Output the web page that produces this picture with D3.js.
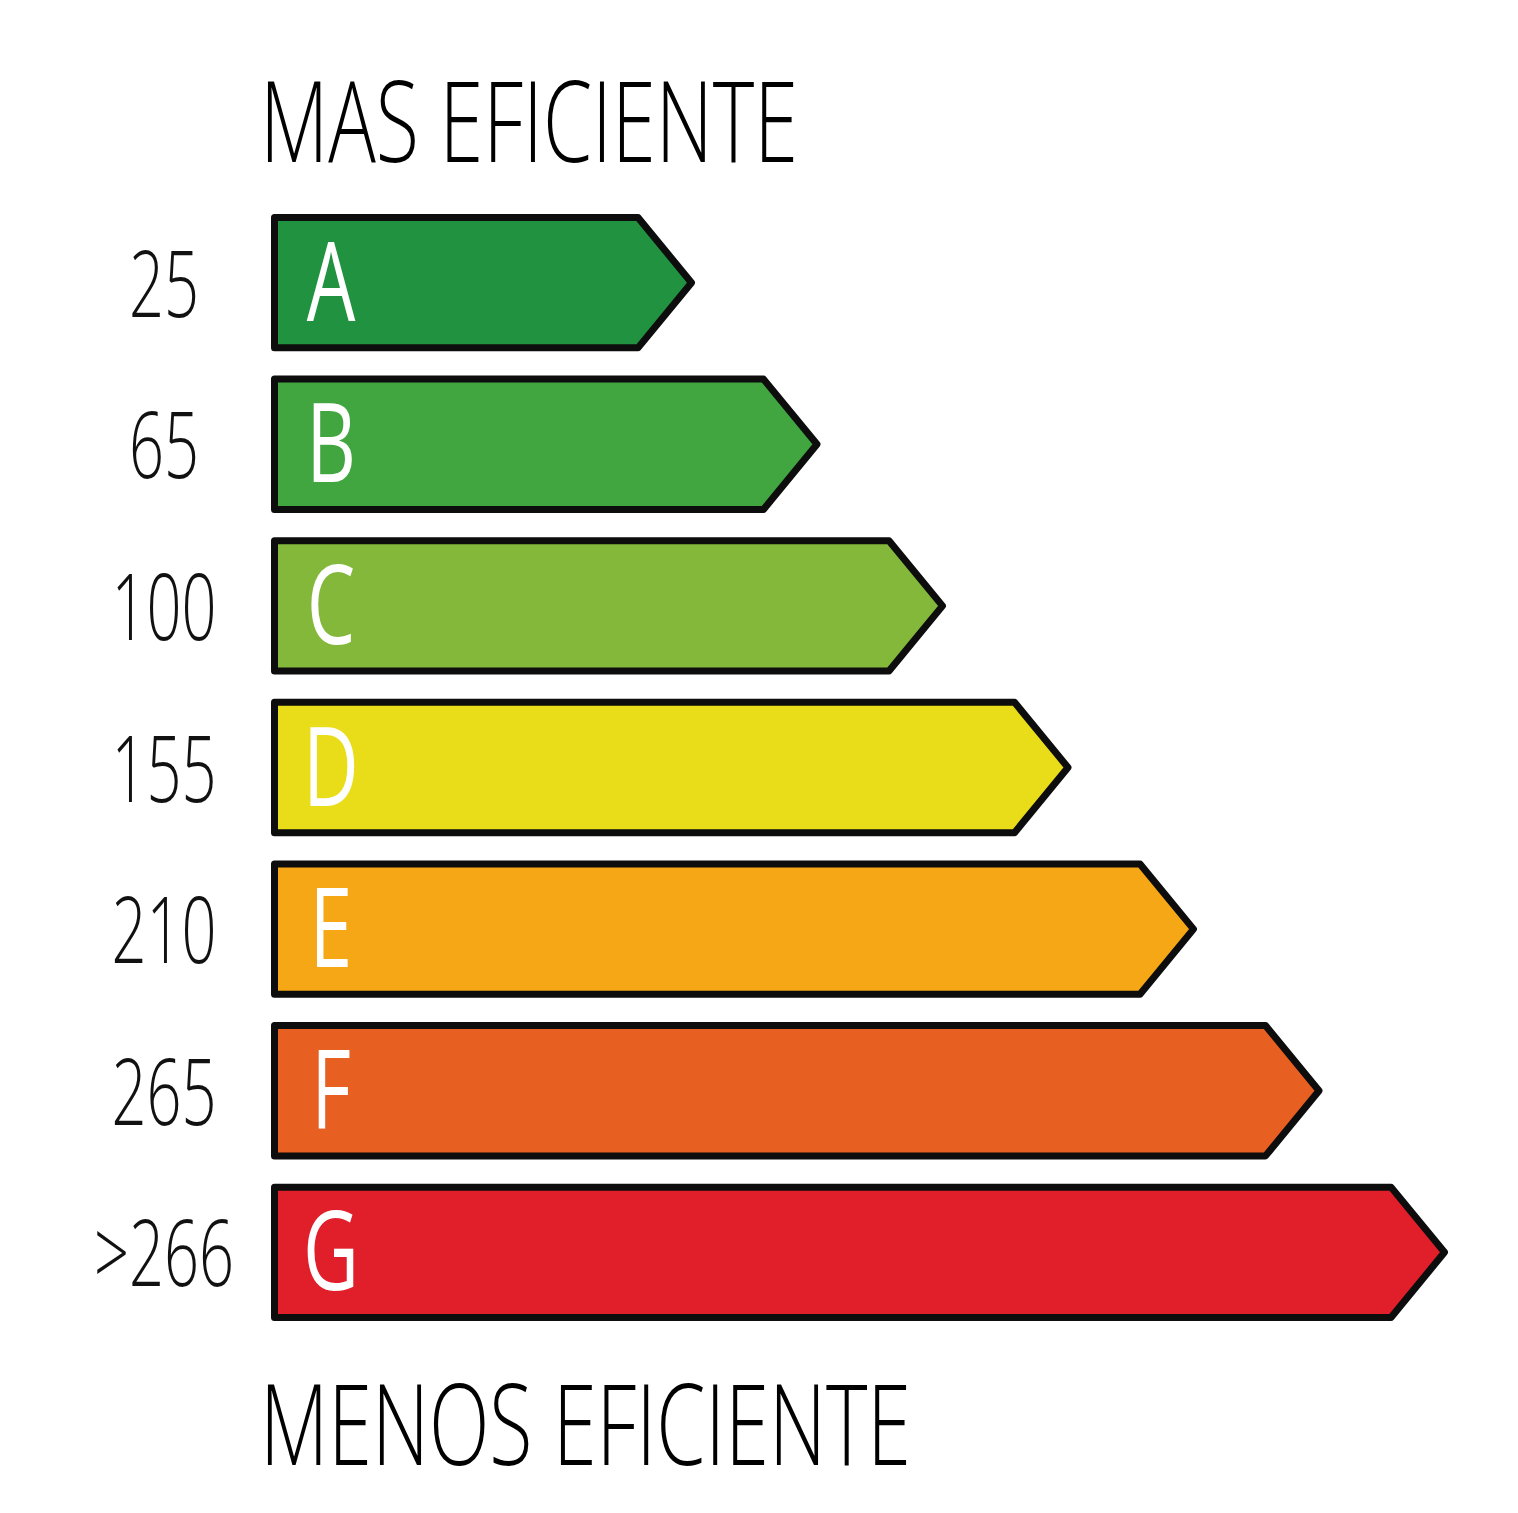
<!DOCTYPE html>
<html><head><meta charset="utf-8">
<script src="https://cdn.jsdelivr.net/npm/d3@7"></script>
<style>html,body{margin:0;padding:0;background:#fff}svg{display:block}</style>
</head><body>
<script>
const categories = ["A","B","C","D","E","F","G"];
const thresholds = ["25","65","100","155","210","265",">266"];
const ranks = [1,2,3,4,5,6,7];
const colors = ["#21923f","#41a540","#84b83a","#e9dc18","#f5a716","#e85f22","#e01f2b"];
const topLabel = "MAS EFICIENTE";
const bottomLabel = "MENOS EFICIENTE";

const W = 1518, H = 1513;
const svg = d3.select("body").append("svg").attr("width", W).attr("height", H);
svg.append("rect").attr("width", W).attr("height", H).attr("fill", "#fff");

const y = d3.scaleBand().domain(categories).range([214, 1321]).paddingInner(0.15).paddingOuter(0);
const x = d3.scaleLinear().domain([1, 7]).range([695, 1448]);
const x0 = 271, sw = 7, tip = 57;
const font = "'Open Sans', 'Liberation Sans Narrow', sans-serif";

const rows = categories.map((c, i) => ({cat: c, th: thresholds[i], r: ranks[i], col: colors[i]}));
const g = svg.append("g");
g.selectAll("path.bar").data(rows).join("path")
  .attr("class", "bar")
  .attr("fill", d => d.col)
  .attr("stroke", "#0d0d0d")
  .attr("stroke-width", sw)
  .attr("stroke-linejoin", "round")
  .attr("d", d => {
    const t = y(d.cat) + sw/2, b = y(d.cat) + y.bandwidth() - sw/2, m = (t + b)/2;
    const l = x0 + sw/2, r = x(d.r) - sw/2;
    return `M${l},${t}L${r - tip + sw/2},${t}L${r},${m}L${r - tip + sw/2},${b}L${l},${b}Z`;
  });

// letters
g.selectAll("text.letter").data(rows).join("text")
  .attr("class", "letter")
  .attr("transform", d => `translate(331,${y(d.cat) + y.bandwidth()/2 + 38}) scale(0.7,1)`)
  .attr("text-anchor", "middle")
  .attr("font-family", font).attr("font-size", 110).attr("font-weight", 400)
  .attr("fill", "#fff")
  .text(d => d.cat);

// thresholds
g.selectAll("text.th").data(rows).join("text")
  .attr("class", "th")
  .attr("transform", d => `translate(164,${y(d.cat) + y.bandwidth()/2 + 34}) scale(0.66,1)`)
  .attr("text-anchor", "middle")
  .attr("font-family", font).attr("font-size", 93).attr("font-weight", 300)
  .attr("fill", "#111")
  .text(d => d.th);

// titles
svg.append("text").attr("x", 260).attr("y", 162)
  .attr("font-family", font).attr("font-size", 112).attr("font-weight", 300)
  .attr("textLength", 538).attr("lengthAdjust", "spacingAndGlyphs")
  .attr("fill", "#000").text(topLabel);
svg.append("text").attr("x", 260).attr("y", 1465)
  .attr("font-family", font).attr("font-size", 112).attr("font-weight", 300)
  .attr("textLength", 651).attr("lengthAdjust", "spacingAndGlyphs")
  .attr("fill", "#000").text(bottomLabel);
</script>
</body></html>
